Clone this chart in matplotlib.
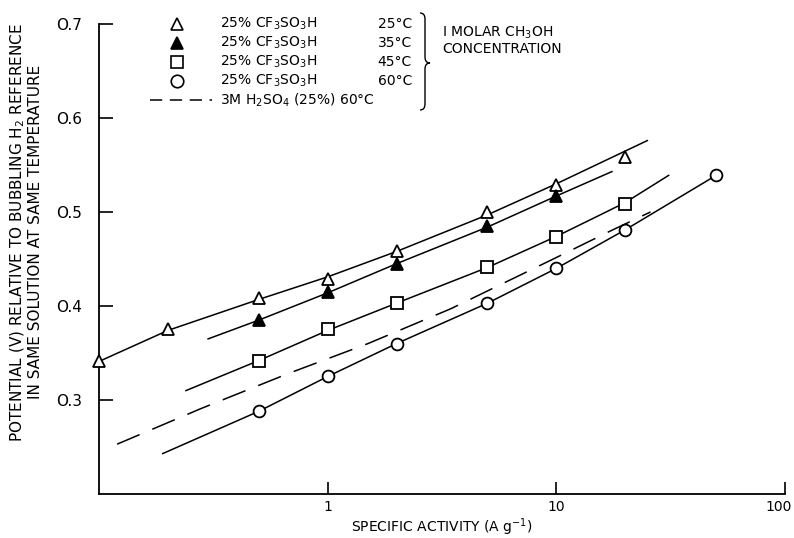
import matplotlib
matplotlib.use("Agg")
import matplotlib.pyplot as plt
import matplotlib.transforms as mtransforms
from matplotlib.path import Path
from matplotlib.patches import PathPatch

plt.rcParams['font.family'] = ['DejaVu Sans']
plt.rcParams['mathtext.default'] = 'regular'

# 25% CF3SO3H, 25C (open triangles)
t25_x = [0.1, 0.2, 0.5, 1, 2, 5, 10, 20]
t25_y = [0.341, 0.375, 0.408, 0.429, 0.459, 0.500, 0.529, 0.559]
t25_line_x = [0.1, 0.2, 0.5, 1, 2, 5, 10, 25]
t25_line_y = [0.341, 0.374, 0.407, 0.431, 0.458, 0.497, 0.530, 0.576]

# 35C (filled triangles)
t35_x = [0.5, 1, 2, 5, 10]
t35_y = [0.385, 0.415, 0.445, 0.485, 0.517]
t35_line_x = [0.3, 0.5, 1, 2, 5, 10, 17.5]
t35_line_y = [0.365, 0.385, 0.414, 0.445, 0.484, 0.517, 0.543]

# 45C (squares)
t45_x = [0.5, 1, 2, 5, 10, 20]
t45_y = [0.342, 0.375, 0.403, 0.441, 0.473, 0.509]
t45_line_x = [0.24, 0.5, 1, 2, 5, 10, 20, 31]
t45_line_y = [0.310, 0.342, 0.374, 0.403, 0.441, 0.474, 0.510, 0.539]

# 60C (circles)
t60_x = [0.5, 1, 2, 5, 10, 20, 50]
t60_y = [0.288, 0.325, 0.360, 0.403, 0.440, 0.481, 0.539]
t60_line_x = [0.19, 0.5, 1, 2, 5, 10, 20, 50]
t60_line_y = [0.243, 0.288, 0.325, 0.360, 0.403, 0.440, 0.481, 0.539]

# 3M H2SO4 60C (dashed)
h2so4_x = [0.12, 0.28, 0.67, 1.5, 3.45, 9.7, 17.3, 25.8]
h2so4_y = [0.253, 0.291, 0.328, 0.360, 0.397, 0.450, 0.480, 0.500]

W, H = 794, 538
fig = plt.figure(figsize=(W / 100, H / 100), dpi=100)

def fx(px):
    return px / W

def fy(py):
    return 1 - py / H

ax = fig.add_axes([fx(99), fy(494), fx(785) - fx(99), fy(24) - fy(494)])

lw = 1.1
ax.plot(t25_line_x, t25_line_y, color='k', lw=lw, clip_on=False)
ax.plot(t35_line_x, t35_line_y, color='k', lw=lw)
ax.plot(t45_line_x, t45_line_y, color='k', lw=lw)
ax.plot(t60_line_x, t60_line_y, color='k', lw=lw)
ax.plot(h2so4_x, h2so4_y, color='k', lw=lw, dashes=(16, 9))

mk = dict(ls='none', markersize=8.5, markeredgewidth=1.3, markeredgecolor='k', clip_on=False, zorder=3)
ax.plot(t25_x, t25_y, marker='^', markerfacecolor='white', **mk)
ax.plot(t35_x, t35_y, marker='^', markerfacecolor='k', **mk)
ax.plot(t45_x, t45_y, marker='s', markerfacecolor='white', **mk)
ax.plot(t60_x, t60_y, marker='o', markerfacecolor='white', **mk)

ax.set_xscale('log')
ax.set_xlim(0.1, 100)
ax.set_ylim(0.2, 0.7)
ax.spines['top'].set_visible(False)
ax.spines['right'].set_visible(False)
ax.spines['left'].set_linewidth(1.3)
ax.spines['bottom'].set_linewidth(1.3)

ax.set_xticks([1, 10, 100])
ax.set_xticklabels(['1', '10', '100'])
ax.xaxis.set_minor_locator(matplotlib.ticker.NullLocator())
ax.set_yticks([0.3, 0.4, 0.5, 0.6, 0.7])
ax.set_yticklabels(['O.3', 'O.4', 'O.5', 'O.6', 'O.7'])
ax.tick_params(axis='x', direction='in', length=9, width=1.2, labelsize=10, pad=4)
ax.tick_params(axis='y', direction='in', length=10, width=1.2, labelsize=11, pad=12)

# keep "100" inside the canvas
last = ax.get_xticklabels()[-1]
last.set_horizontalalignment('right')
last.set_transform(last.get_transform() + mtransforms.ScaledTranslation(7 / 100, 0, fig.dpi_scale_trans))

ax.set_xlabel('SPECIFIC ACTIVITY (A g$^{-1}$)', fontsize=10, labelpad=2)

fig.text(fx(18), fy(232), 'POTENTIAL (V) RELATIVE TO BUBBLING H$_2$ REFERENCE',
         rotation=90, ha='center', va='center', fontsize=11)
fig.text(fx(36), fy(232), 'IN SAME SOLUTION AT SAME TEMPERATURE',
         rotation=90, ha='center', va='center', fontsize=11)

# hand-drawn style legend block
rows = [24, 43, 62, 81]
markers = [('^', 'white'), ('^', 'k'), ('s', 'white'), ('o', 'white')]
temps = ['25°C', '35°C', '45°C', '60°C']
for py, (m, fc), t in zip(rows, markers, temps):
    fig.add_artist(plt.Line2D([fx(177)], [fy(py)], marker=m, markersize=9,
                              markerfacecolor=fc, markeredgecolor='k',
                              markeredgewidth=1.2, ls='none'))
    fig.text(fx(220), fy(py), '25% CF$_3$SO$_3$H', ha='left', va='center', fontsize=10)
    fig.text(fx(412), fy(py), t, ha='right', va='center', fontsize=10)

fig.add_artist(plt.Line2D([fx(150), fx(212)], [fy(100), fy(100)], color='k',
                          lw=lw, dashes=(8, 5)))
fig.text(fx(220), fy(100), '3M H$_2$SO$_4$ (25%) 60°C', ha='left', va='center', fontsize=10)

# curly brace
bx, top, bot, mid = 420, 13, 110, 63
verts = [(bx, top), (bx + 5, top), (bx + 5, top + 6),
         (bx + 5, mid - 6),
         (bx + 5, mid), (bx + 10, mid),
         (bx + 5, mid), (bx + 5, mid + 6),
         (bx + 5, bot - 6),
         (bx + 5, bot), (bx, bot)]
codes = [Path.MOVETO, Path.CURVE3, Path.CURVE3, Path.LINETO,
         Path.CURVE3, Path.CURVE3, Path.CURVE3, Path.CURVE3,
         Path.LINETO, Path.CURVE3, Path.CURVE3]
verts = [(fx(vx), fy(vy)) for vx, vy in verts]
fig.add_artist(PathPatch(Path(verts, codes), facecolor='none', edgecolor='k',
                         lw=1.0, transform=fig.transFigure))

fig.text(fx(442), fy(33), 'I MOLAR CH$_3$OH', ha='left', va='center', fontsize=10)
fig.text(fx(442), fy(49), 'CONCENTRATION', ha='left', va='center', fontsize=10)

fig.savefig('out.png', dpi=100)
